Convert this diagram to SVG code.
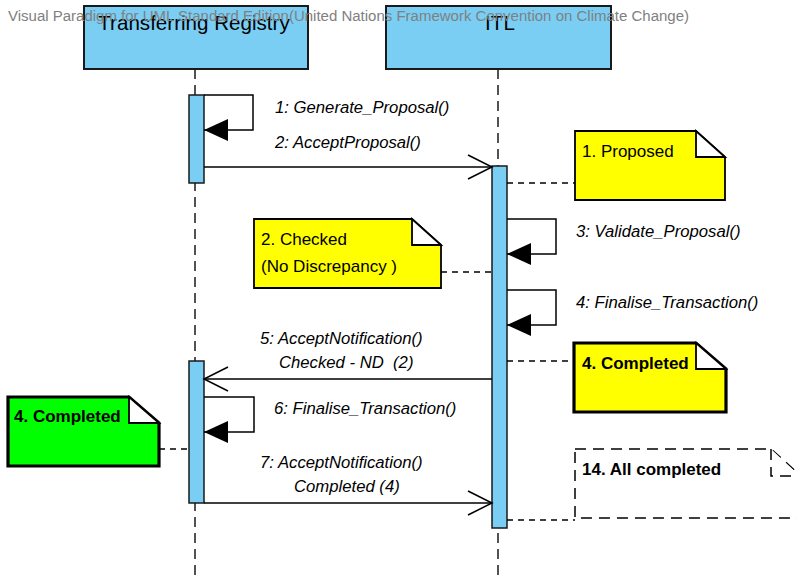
<svg xmlns="http://www.w3.org/2000/svg" width="797" height="575" viewBox="0 0 797 575">
  <style>
    .head { fill: #7acef4; stroke: #1a1a1a; stroke-width: 2; }
    .bar { fill: #7acef4; stroke: #1a1a1a; stroke-width: 1.5; }
    .life { stroke: #1a1a1a; stroke-width: 1.5; stroke-dasharray: 10 6; fill: none; }
    .msg { stroke: #000; stroke-width: 1.5; fill: none; }
    .anchor { stroke: #000; stroke-width: 1.5; stroke-dasharray: 6 5; fill: none; }
    .note { fill: #ffff00; stroke: #000; stroke-width: 1.8; stroke-linejoin: miter; }
    .noteBold { stroke-width: 3.2; }
    .fold { fill: #ffffff; stroke: #000; stroke-width: 1.8; }
    .dashedNote { fill: #ffffff; stroke: #000; stroke-width: 1.5; stroke-dasharray: 11 7; }
    .title { font-family: "Liberation Sans", Arial, sans-serif; font-size: 20.6px; fill: #000; text-anchor: middle; }
    .lbl { font-family: "Liberation Sans", Arial, sans-serif; font-size: 16.7px; font-style: italic; fill: #000; white-space: pre; }
    .ntxt { font-family: "Liberation Sans", Arial, sans-serif; font-size: 17px; fill: #000; }
    .ntxtB { font-family: "Liberation Sans", Arial, sans-serif; font-size: 17px; font-weight: bold; fill: #000; }
    .wm { font-family: "Liberation Sans", Arial, sans-serif; font-size: 14px; fill: #808080; }
  </style>
  <defs>
    <marker id="open" markerUnits="userSpaceOnUse" markerWidth="30" markerHeight="30" refX="24" refY="12" orient="auto" overflow="visible">
      <path d="M0,0 L24,12 L0,24" fill="none" stroke="#000" stroke-width="1.5"/>
    </marker>
    <marker id="filled" markerUnits="userSpaceOnUse" markerWidth="30" markerHeight="30" refX="24" refY="11" orient="auto" overflow="visible">
      <path d="M0,0 L24,11 L0,22 Z" fill="#000"/>
    </marker>
  </defs>

  <!-- lifelines -->
  <g id="lifeline-registry">
    <line class="life" x1="195" y1="69" x2="195" y2="575"/>
    <rect class="head" x="84" y="6" width="224" height="63"/>
    <text class="title" x="194" y="30">Transferring Registry</text>
    <rect class="bar" x="189" y="95" width="15" height="88"/>
    <rect class="bar" x="189" y="361" width="15" height="142"/>
  </g>
  <g id="lifeline-itl">
    <line class="life" x1="498" y1="69" x2="498" y2="575"/>
    <rect class="head" x="386" y="6" width="225" height="63"/>
    <text class="title" x="500" y="30">ITL</text>
    <rect class="bar" x="492" y="166" width="15" height="362"/>
  </g>

  <!-- notes -->
  <g id="note-proposed">
    <path class="note" d="M575,131 H696 L725,157 V200 H575 Z"/>
    <path class="fold" d="M696,131 V157 H725 Z"/>
    <text class="ntxt" x="582" y="157">1. Proposed</text>
  </g>
  <g id="note-checked">
    <path class="note" d="M254,219 H412 L441,245 V288 H254 Z"/>
    <path class="fold" d="M412,219 V245 H441 Z"/>
    <text class="ntxt" x="261" y="245">2. Checked</text>
    <text class="ntxt" x="261" y="272">(No Discrepancy )</text>
  </g>
  <g id="note-completed-itl">
    <path class="note noteBold" d="M574,343 H696 L726,369 V412 H574 Z"/>
    <path class="fold noteBold" d="M696,343 V369 H726 Z"/>
    <text class="ntxtB" x="582" y="369">4. Completed</text>
  </g>
  <g id="note-completed-registry">
    <path class="note noteBold" d="M8,397 H129 L159,423 V466 H8 Z" style="fill:#00ff00"/>
    <path class="fold noteBold" d="M129,397 V423 H159 Z"/>
    <text class="ntxtB" x="14" y="422">4. Completed</text>
  </g>
  <g id="note-all-completed">
    <path class="dashedNote" d="M575,449 H771 L800,475 V518 H575 Z"/>
    <path class="dashedNote" d="M771,449 V476 H800"/>
    <text class="ntxtB" x="582" y="475">14. All completed</text>
  </g>

  <!-- connectors -->
  <g id="connectors">
    <path class="msg" d="M204,95 H253 V130 H204" marker-end="url(#filled)"/>
    <line class="msg" x1="204" y1="167" x2="492" y2="167" marker-end="url(#open)"/>
    <path class="msg" d="M507,219 H556 V254 H507" marker-end="url(#filled)"/>
    <path class="msg" d="M507,290 H556 V325 H507" marker-end="url(#filled)"/>
    <line class="msg" x1="492" y1="379" x2="204" y2="379" marker-end="url(#open)"/>
    <path class="msg" d="M204,397 H254 V432 H204" marker-end="url(#filled)"/>
    <line class="msg" x1="204" y1="503" x2="492" y2="503" marker-end="url(#open)"/>

    <line class="anchor" x1="507" y1="183" x2="575" y2="183"/>
    <line class="anchor" x1="441" y1="272" x2="492" y2="272"/>
    <line class="anchor" x1="507" y1="361" x2="574" y2="361"/>
    <line class="anchor" x1="159" y1="449" x2="189" y2="449"/>
    <line class="anchor" x1="507" y1="520" x2="575" y2="520"/>

    <text class="lbl" x="275" y="113">1: Generate_Proposal()</text>
    <text class="lbl" x="275" y="148">2: AcceptProposal()</text>
    <text class="lbl" x="576" y="237">3: Validate_Proposal()</text>
    <text class="lbl" x="576" y="308">4: Finalise_Transaction()</text>
    <text class="lbl" x="260" y="344">5: AcceptNotification()</text>
    <text class="lbl" x="279" y="368">Checked - ND &#160;(2)</text>
    <text class="lbl" x="274" y="414">6: Finalise_Transaction()</text>
    <text class="lbl" x="260" y="468">7: AcceptNotification()</text>
    <text class="lbl" x="294" y="492">Completed (4)</text>
  </g>

  <text class="wm" x="8" y="21" textLength="681" lengthAdjust="spacingAndGlyphs">Visual Paradigm for UML Standard Edition(United Nations Framework Convention on Climate Change)</text>
</svg>
